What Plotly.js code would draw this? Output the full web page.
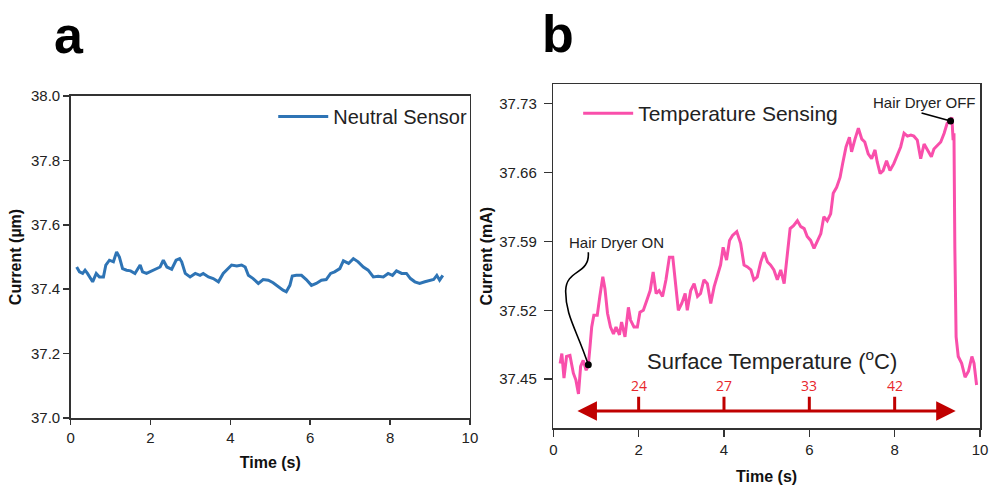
<!DOCTYPE html>
<html>
<head>
<meta charset="utf-8">
<script src="https://cdn.plot.ly/plotly-3.0.1.min.js"></script>
<style>html,body{margin:0;padding:0;background:#fff;}#chart{width:990px;height:485px;}</style>
</head>
<body>
<div id="chart"></div>
<script>
// ---------- Panel a : Neutral sensor ----------
const neutralTime = [0.15,0.22,0.30,0.36,0.42,0.49,0.55,0.64,0.72,0.82,0.88,0.97,1.07,1.15,1.22,1.30,1.40,1.50,1.61,1.74,1.80,1.90,2.03,2.16,2.24,2.32,2.41,2.53,2.64,2.73,2.78,2.87,2.99,3.12,3.24,3.32,3.45,3.57,3.70,3.82,3.95,4.03,4.16,4.28,4.37,4.45,4.57,4.70,4.82,4.95,5.07,5.20,5.32,5.40,5.49,5.55,5.65,5.78,5.90,6.03,6.15,6.28,6.40,6.51,6.61,6.74,6.83,6.96,7.08,7.20,7.33,7.45,7.58,7.70,7.83,7.95,8.06,8.16,8.29,8.41,8.51,8.62,8.74,8.87,8.99,9.09,9.17,9.24,9.32];
const neutralCurrent = [37.469,37.454,37.449,37.459,37.449,37.433,37.423,37.449,37.438,37.438,37.475,37.490,37.485,37.516,37.500,37.464,37.459,37.457,37.449,37.475,37.454,37.449,37.457,37.464,37.469,37.490,37.469,37.462,37.490,37.495,37.485,37.449,37.438,37.449,37.443,37.449,37.438,37.433,37.423,37.449,37.464,37.475,37.472,37.475,37.469,37.443,37.433,37.418,37.430,37.428,37.420,37.407,37.397,37.392,37.412,37.441,37.443,37.443,37.430,37.412,37.418,37.428,37.430,37.449,37.454,37.464,37.488,37.480,37.495,37.485,37.469,37.459,37.438,37.440,37.438,37.449,37.443,37.457,37.449,37.449,37.433,37.423,37.418,37.423,37.428,37.430,37.443,37.428,37.443];

// ---------- Panel b : Temperature sensing ----------
const tempTime = [0.16,0.20,0.25,0.31,0.39,0.47,0.53,0.59,0.64,0.70,0.77,0.82,0.86,0.90,0.95,1.03,1.09,1.16,1.21,1.27,1.34,1.41,1.47,1.55,1.60,1.68,1.76,1.81,1.89,1.97,2.03,2.11,2.19,2.27,2.34,2.41,2.48,2.56,2.64,2.72,2.80,2.86,2.93,3.01,3.09,3.14,3.22,3.30,3.38,3.45,3.53,3.61,3.69,3.77,3.84,3.92,3.98,4.06,4.13,4.20,4.30,4.39,4.47,4.55,4.63,4.70,4.78,4.86,4.94,5.02,5.09,5.17,5.25,5.33,5.41,5.48,5.55,5.63,5.72,5.80,5.88,5.95,6.03,6.11,6.19,6.27,6.34,6.42,6.50,6.56,6.64,6.72,6.78,6.86,6.94,6.99,7.07,7.15,7.23,7.30,7.38,7.46,7.54,7.59,7.66,7.73,7.81,7.89,7.98,8.06,8.14,8.22,8.30,8.38,8.45,8.53,8.61,8.69,8.77,8.86,8.92,9.00,9.08,9.16,9.23,9.30,9.34,9.37,9.39,9.41,9.44,9.49,9.57,9.65,9.73,9.81,9.86,9.92];
const tempCurrent = [37.466,37.476,37.451,37.473,37.474,37.456,37.449,37.435,37.463,37.469,37.459,37.464,37.483,37.503,37.515,37.515,37.534,37.554,37.542,37.517,37.503,37.496,37.503,37.495,37.508,37.493,37.523,37.510,37.503,37.503,37.518,37.520,37.530,37.540,37.559,37.537,37.540,37.534,37.551,37.574,37.574,37.551,37.520,37.527,37.537,37.520,37.540,37.547,37.534,37.537,37.551,37.547,37.527,37.544,37.554,37.566,37.584,37.571,37.591,37.596,37.600,37.588,37.566,37.564,37.561,37.551,37.554,37.569,37.579,37.569,37.566,37.561,37.551,37.561,37.547,37.578,37.603,37.606,37.611,37.605,37.603,37.595,37.591,37.583,37.591,37.598,37.615,37.611,37.618,37.639,37.645,37.655,37.669,37.686,37.696,37.681,37.694,37.705,37.694,37.691,37.679,37.674,37.683,37.671,37.659,37.662,37.672,37.662,37.669,37.678,37.686,37.700,37.697,37.698,37.697,37.693,37.674,37.689,37.683,37.676,37.684,37.688,37.691,37.700,37.710,37.713,37.716,37.693,37.700,37.584,37.493,37.473,37.466,37.452,37.458,37.473,37.466,37.444];

// ---------- Annotation content ----------
const tempScaleTicks = [2, 4, 6, 8];
const tempScaleLabels = ['24', '27', '33', '42'];
const arrowSpan = [0.53, 9.43];
const arrowLevel = 37.4175;
const arrowTickTop = 37.432;
const tempLabelLevel = 37.444;
const eventDotTime = [0.82, 9.31];
const eventDotCurrent = [37.4645, 37.7124];

const traces = [
  {x: neutralTime, y: neutralCurrent, type: 'scatter', mode: 'lines', name: 'Neutral Sensor',
   line: {color: '#2E74B5', width: 3}, xaxis: 'x', yaxis: 'y', legend: 'legend'},
  {x: tempTime, y: tempCurrent, type: 'scatter', mode: 'lines', name: 'Temperature Sensing',
   line: {color: '#F94FAB', width: 3}, xaxis: 'x2', yaxis: 'y2', legend: 'legend2'},
  {x: eventDotTime, y: eventDotCurrent, type: 'scatter', mode: 'markers', showlegend: false,
   marker: {color: '#000', size: 7}, xaxis: 'x2', yaxis: 'y2', hoverinfo: 'skip'}
];

const axisCommon = {
  showline: true, linecolor: '#333', linewidth: 1.5, mirror: true,
  ticks: 'outside', tickcolor: '#333', tickwidth: 1.5,
  showgrid: false, zeroline: false, automargin: false,
  tickfont: {family: 'Arial, "Liberation Sans", sans-serif', size: 15, color: '#222'}
};

const shapes = [];
tempScaleTicks.forEach(t => shapes.push({type: 'line', xref: 'x2', yref: 'y2', x0: t, x1: t,
  y0: arrowLevel, y1: arrowTickTop, line: {color: '#C00000', width: 3}}));
shapes.push({type: 'path', xref: 'x2', yref: 'y2',
  path: 'M0.82,37.579 C0.86,37.556 0.30,37.562 0.29,37.540 C0.28,37.515 0.55,37.500 0.82,37.4645',
  line: {color: '#000', width: 1.6}});
shapes.push({type: 'line', xref: 'x2', yref: 'y2', x0: 8.63, y0: 37.7206, x1: eventDotTime[1], y1: eventDotCurrent[1],
  line: {color: '#000', width: 1.6}});

const annotations = [
  {text: '<b>a</b>', xref: 'paper', yref: 'paper', x: 69/990, y: 1 - 35/485, showarrow: false,
   font: {size: 52, color: '#000'}, xanchor: 'center', yanchor: 'middle'},
  {text: '<b>b</b>', xref: 'paper', yref: 'paper', x: 558/990, y: 1 - 34/485, showarrow: false,
   font: {size: 52, color: '#000'}, xanchor: 'center', yanchor: 'middle'},
  {text: 'Hair Dryer ON', xref: 'x2', yref: 'y2', x: 1.49, y: 37.589, showarrow: false,
   font: {size: 15, color: '#222'}},
  {text: 'Hair Dryer OFF', xref: 'x2', yref: 'y2', x: 8.69, y: 37.7307, showarrow: false,
   font: {size: 15, color: '#222'}},
  {text: 'Surface Temperature (<sup>o</sup>C)', xref: 'x2', yref: 'y2', x: 5.12, y: 37.4693, showarrow: false,
   font: {size: 22, color: '#222'}},
  {text: '', xref: 'x2', yref: 'y2', axref: 'x2', ayref: 'y2', x: arrowSpan[1], y: arrowLevel,
   ax: arrowSpan[0], ay: arrowLevel, showarrow: true, arrowhead: 2, startarrowhead: 2, arrowside: 'end+start',
   arrowsize: 1.3, startarrowsize: 1.3, arrowwidth: 3, arrowcolor: '#C00000'}
];
tempScaleTicks.forEach((t, i) => annotations.push({text: tempScaleLabels[i], xref: 'x2', yref: 'y2',
  x: t, y: tempLabelLevel, showarrow: false, font: {size: 14, color: '#E8262B', family: '"Open Sans", sans-serif'}}));

const layout = {
  width: 990, height: 485,
  margin: {l: 0, r: 0, t: 0, b: 0},
  paper_bgcolor: '#fff', plot_bgcolor: '#fff',
  font: {family: 'Arial, "Liberation Sans", sans-serif', color: '#222'},
  xaxis: Object.assign({}, axisCommon, {domain: [0.0714, 0.4747], range: [0, 10], tickvals: [0,2,4,6,8,10],
    ticklen: 5, anchor: 'y', title: {text: '<b>Time (s)</b>', font: {size: 16, color: '#111'}, standoff: 12}}),
  yaxis: Object.assign({}, axisCommon, {domain: [0.1381, 0.8021], range: [37, 38], tickvals: [37.0,37.2,37.4,37.6,37.8,38.0],
    tickformat: '.1f', ticklen: 6, anchor: 'x', title: {text: '<b>Current (µm)</b>', font: {size: 16, color: '#111'}, standoff: 5}}),
  xaxis2: Object.assign({}, axisCommon, {domain: [0.5589, 0.9899], range: [0, 10], tickvals: [0,2,4,6,8,10],
    ticklen: 7, anchor: 'y2', title: {text: '<b>Time (s)</b>', font: {size: 16, color: '#111'}, standoff: 14}}),
  yaxis2: Object.assign({}, axisCommon, {domain: [0.1169, 0.8268], range: [37.40, 37.75], tickvals: [37.45,37.52,37.59,37.66,37.73],
    tickformat: '.2f', ticklen: 8, anchor: 'x2', ticklabelstandoff: 4,
    title: {text: '<b>Current (mA)</b>', font: {size: 16, color: '#111'}, standoff: 2}}),
  legend: {x: 0.477, xanchor: 'right', y: 0.80, yanchor: 'top', bgcolor: 'rgba(0,0,0,0)',
    font: {size: 20, color: '#222'}, itemwidth: 50},
  legend2: {x: 0.584, xanchor: 'left', y: 0.808, yanchor: 'top', bgcolor: 'rgba(0,0,0,0)',
    font: {size: 21, color: '#222'}, itemwidth: 50},
  shapes: shapes,
  annotations: annotations,
  showlegend: true
};

Plotly.newPlot('chart', traces, layout, {displayModeBar: false, staticPlot: true});
</script>
</body>
</html>
